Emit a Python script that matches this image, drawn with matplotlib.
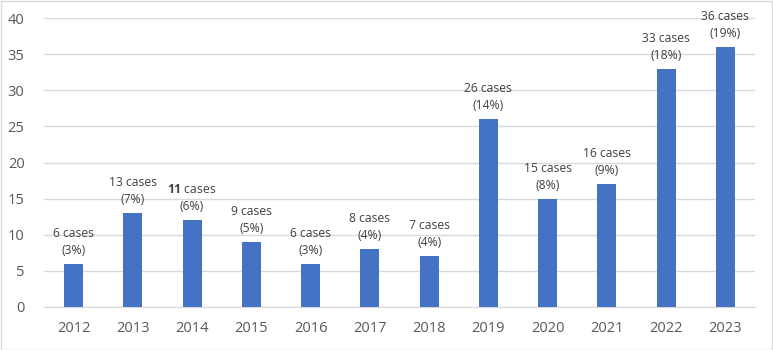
import matplotlib
matplotlib.use("Agg")
import matplotlib.pyplot as plt
from matplotlib.patches import Rectangle

years = ["2012", "2013", "2014", "2015", "2016", "2017", "2018", "2019", "2020", "2021", "2022", "2023"]
values = [6, 13, 12, 9, 6, 8, 7, 26, 15, 17, 33, 36]
label_cases = [6, 13, 11, 9, 6, 8, 7, 26, 15, 16, 33, 36]
label_pct = [3, 7, 6, 5, 3, 4, 4, 14, 8, 9, 18, 19]
bold_count = [False, False, True, False, False, False, False, False, False, False, False, False]
yticks = [0, 5, 10, 15, 20, 25, 30, 35, 40]

plt.rcParams['font.family'] = ['Open Sans', 'DejaVu Sans']
plt.rcParams['mathtext.fontset'] = 'custom'
plt.rcParams['mathtext.rm'] = 'Open Sans'
plt.rcParams['mathtext.bf'] = 'Open Sans:bold'

fig = plt.figure(figsize=(7.73, 3.5), dpi=100)
ax = fig.add_axes([44/773, 1 - 307/350, (755 - 44)/773, (307 - 18)/350])

x = range(len(years))
ax.bar(x, values, width=0.32, color="#4472C4", zorder=3)
ax.set_xlim(-0.5, len(years) - 0.5)
ax.set_ylim(0, 40)
ax.set_yticks(yticks)
ax.set_xticks(list(x))
ax.set_xticklabels(years)
ax.grid(axis="y", color="#D9D9D9", linewidth=1, zorder=0)
for s in ax.spines.values():
    s.set_visible(False)
ax.spines["bottom"].set_visible(True)
ax.spines["bottom"].set_color("#D9D9D9")
ax.tick_params(axis="both", length=0, labelsize=10.5, labelcolor="#595959")
ax.tick_params(axis="x", pad=10)
ax.tick_params(axis="y", pad=14)

for xi, v, c, p, b in zip(x, values, label_cases, label_pct, bold_count):
    num = f"$\\mathbf{{{c}}}$" if b else f"{c}"
    ax.annotate(f"{num} cases\n({p}%)", xy=(xi, v), xytext=(0, 5), textcoords="offset points",
                ha="center", va="bottom", fontsize=8.7, color="#404040", linespacing=1.4)

fig.patches.append(Rectangle((0.5/773, 0.5/350), 1 - 1.5/773, 1 - 1.5/350, transform=fig.transFigure,
                             fill=False, edgecolor="#D9D9D9", linewidth=1))
fig.savefig("out.png", dpi=100)
